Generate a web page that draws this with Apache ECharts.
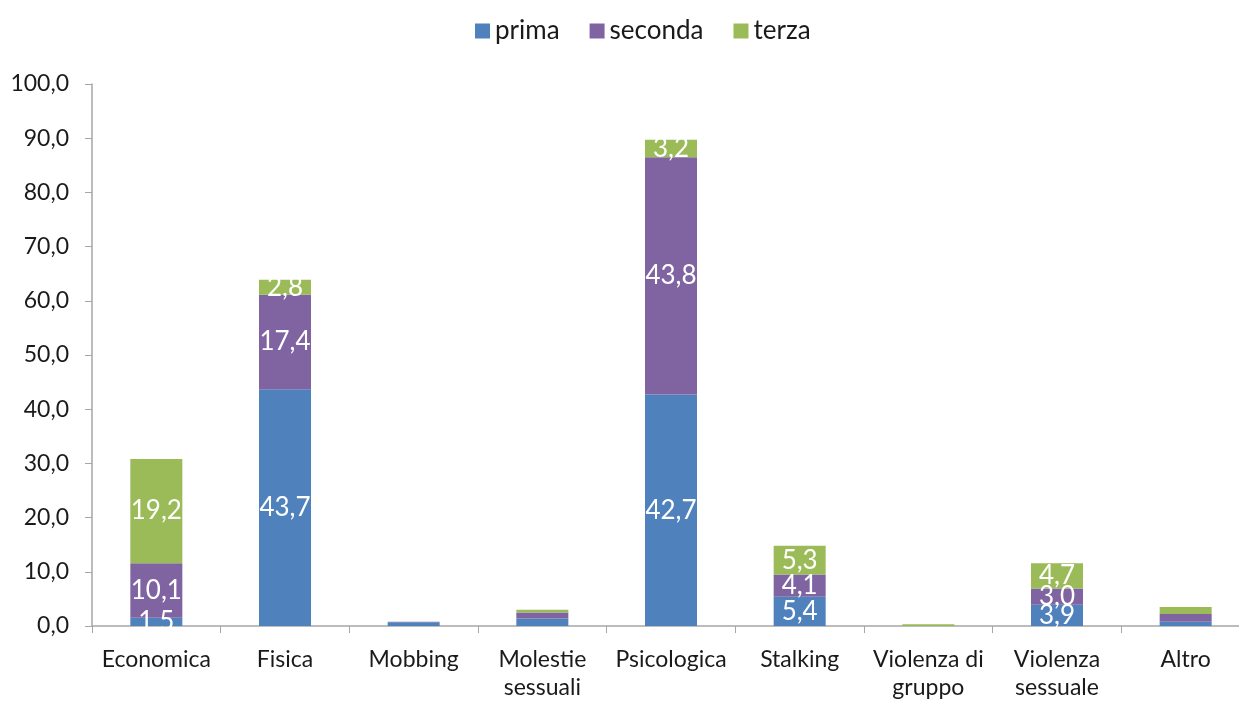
<!DOCTYPE html>
<html>
<head>
<meta charset="utf-8">
<script src="https://cdn.jsdelivr.net/npm/echarts@6/dist/echarts.min.js"></script>
<style>
  html, body { margin: 0; padding: 0; background: #fff; overflow: hidden; }
  #chart { width: 1250px; height: 702px; }
</style>
</head>
<body>
<div id="chart"></div>
<script>
// categorie e valori
var categories = ['Economica', 'Fisica', 'Mobbing', 'Molestie\nsessuali', 'Psicologica', 'Stalking', 'Violenza di\ngruppo', 'Violenza\nsessuale', 'Altro']
var prima = [1.5, 43.7, 0.7, 1.4, 42.7, 5.4, 0.0, 3.9, 0.8]
var seconda = [10.1, 17.4, 0.1, 1.1, 43.8, 4.1, 0.0, 3.0, 1.4]
var terza = [19.2, 2.8, 0.0, 0.5, 3.2, 5.3, 0.3, 4.7, 1.3]
var yTicks = [0, 10, 20, 30, 40, 50, 60, 70, 80, 90, 100]

var font = 'Lato'
function fmt (v) {
  return v.toFixed(1).replace('.', ',')
}

function makeSeries (name, data, color) {
  return {
    name: name,
    type: 'bar',
    stack: 'tot',
    barWidth: 52,
    data: data,
    itemStyle: { color: color },
    label: {
      show: true,
      position: 'inside',
      color: '#fff',
      fontFamily: font,
      fontSize: 26,
      formatter: function (p) {
        return p.value >= 1.5 ? fmt(p.value) : ''
      }
    }
  }
}

var chart = echarts.init(document.getElementById('chart'))
chart.setOption({
  animation: false,
  legend: {
    top: 13,
    left: 470,
    itemWidth: 15,
    itemHeight: 15,
    itemGap: 30,
    icon: 'rect',
    textStyle: { fontFamily: font, fontSize: 26, color: '#1a1a1a' },
    data: ['prima', 'seconda', 'terza']
  },
  grid: {
    left: 92,
    top: 84,
    right: 0,
    bottom: 75,
    containLabel: false
  },
  xAxis: {
    type: 'category',
    data: categories,
    axisLine: { lineStyle: { color: '#a6a6a6', width: 1.5 } },
    axisTick: { show: true, length: 7, lineStyle: { color: '#a6a6a6' } },
    axisLabel: {
      fontFamily: font,
      fontSize: 23,
      color: '#1a1a1a',
      margin: 20,
      lineHeight: 28,
      interval: 0
    }
  },
  yAxis: {
    type: 'value',
    min: yTicks[0],
    max: yTicks[yTicks.length - 1],
    interval: 10,
    splitLine: { show: false },
    axisLine: { show: true, lineStyle: { color: '#a6a6a6', width: 1.5 } },
    axisTick: { show: true, length: 7, lineStyle: { color: '#a6a6a6' } },
    axisLabel: {
      fontFamily: font,
      fontSize: 23,
      color: '#1a1a1a',
      margin: 23,
      formatter: function (v) { return fmt(v) }
    }
  },
  series: [
    makeSeries('prima', prima, '#4F81BD'),
    makeSeries('seconda', seconda, '#8064A2'),
    makeSeries('terza', terza, '#9BBB59')
  ]
})
</script>
</body>
</html>
